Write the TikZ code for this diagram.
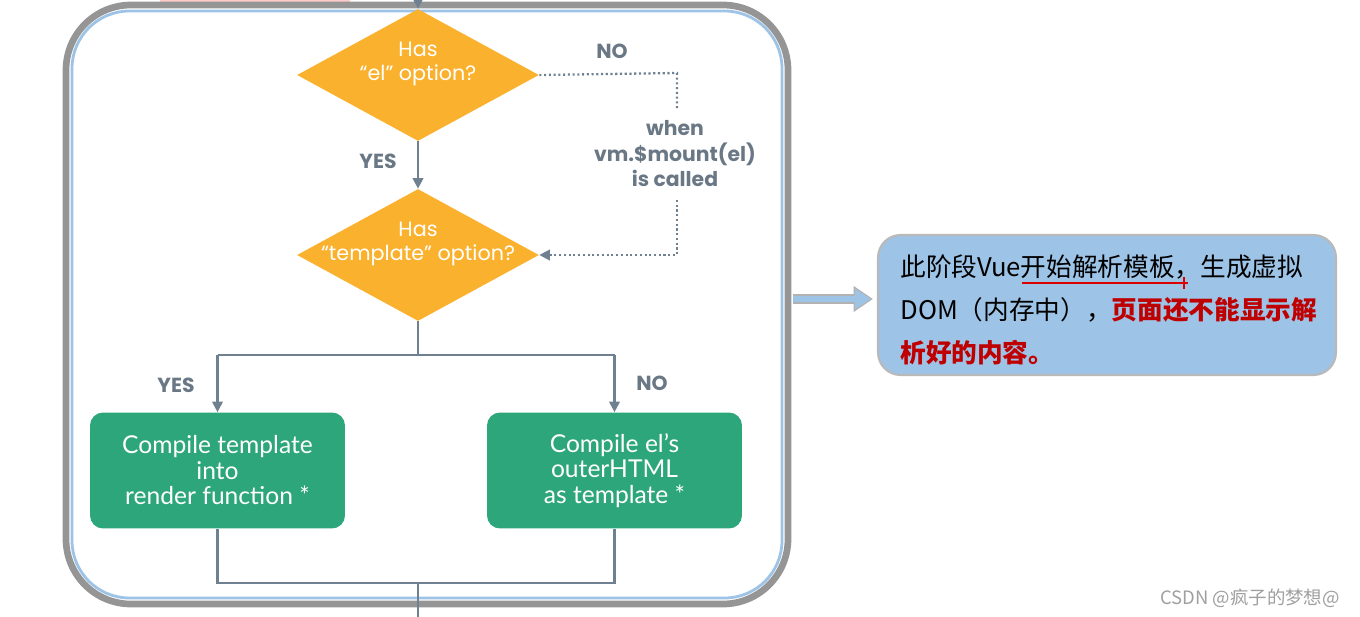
\documentclass[tikz,border=0pt]{standalone}
\usepackage{fontspec}
\setmainfont{Lato}
\newfontfamily\labfont{Poppins}
\newfontfamily\cjk{Noto Sans CJK SC}
\usetikzlibrary{shapes.geometric,arrows.meta}
\definecolor{dorange}{HTML}{FAB12E}
\definecolor{dgreen}{HTML}{2EA67B}
\definecolor{lgray}{HTML}{6F8191}
\definecolor{cblue}{HTML}{9DC3E6}
\definecolor{lbl}{HTML}{6A7886}
\definecolor{framegray}{HTML}{7A7A7A}
\tikzset{
  dec/.style={diamond, fill=dorange, draw=none, minimum width=4.84cm, minimum height=2.64cm, inner sep=0pt},
  dtext/.style={text=white, font=\labfont\fontsize{11.8}{14}\selectfont, align=center},
  action/.style={rectangle, rounded corners=0.26cm, fill=dgreen, minimum width=5.1cm, minimum height=2.32cm, text=white, font=\fontsize{14}{14.5}\selectfont, align=center, inner sep=0pt},
  lab/.style={text=lbl, font=\labfont\bfseries\fontsize{11.6}{14.5}\selectfont, align=center},
  conn/.style={draw=lgray, line width=1.2pt},
  arr/.style={conn, -{Triangle[length=6pt,width=6pt]}},
  dots/.style={draw=lgray, line width=1.3pt, dash pattern=on 1.2pt off 1.5pt},
  callout/.style={rectangle, rounded corners=0.45cm, fill=cblue, draw=gray!55, line width=1.2pt, minimum width=9.16cm, minimum height=2.8cm},
  ctext/.style={font=\cjk\fontsize{14.6}{16}\selectfont, anchor=west, inner sep=0pt},
}
\begin{document}
\begin{tikzpicture}[x=0.02cm, y=-0.02cm]
\useasboundingbox (0,0) rectangle (1360,616);
% faint pink band at top-left
\fill[red!35, opacity=0.6] (160,0) rectangle (350,2.5);
% outer frame
\draw[framegray!80, line width=3.8pt, rounded corners=1.3cm] (66,5) rectangle (788,604);
\draw[cblue, line width=1.6pt, rounded corners=1.15cm] (72,11) rectangle (782,598);

% decisions
\node[dec] (d1) at (418,75) {};
\node[dtext] (d1t) at (418,64) {Has\\“el” option?};
\node[dec] (d2) at (418,255) {};
\node[dtext] (d2t) at (418,244) {Has\\“template” option?};

% actions
\node[action] (b1) at (217.5,470.5) {Compile template\\into\\render function *};
\node[action] (b2) at (614.5,470.5) {Compile el’s\\outerHTML\\as template *};

% callout
\node[callout] (co) at (1107,305) {};
\node[ctext] (l1) at (900,267) {此阶段Vue开始解析模板，生成虚拟};
\node[ctext] (l2) at (900,310) {DOM（内存中），\textcolor{red!75!black}{\bfseries 页面还不能显示解}};
\node[ctext, text=red!75!black] (l3) at (900,353) {\bfseries 析好的内容。};
\coordinate (u1) at (1022,283);
\coordinate (u2) at (1188,283);
\draw[red!85!black, line width=1.4pt] (u1) -- (u2);
\draw[red!85!black, line width=0.9pt] (1184,277) -- (1184,289);

% coordinates
\coordinate (topin) at (418,-2);
\coordinate (n1) at (677,73);
\coordinate (n2) at (677,108);
\coordinate (n3) at (677,200);
\coordinate (s) at (418,355);
\coordinate (sl) at (217.5,355);
\coordinate (sr) at (614.5,355);
\coordinate (ml) at (217.5,583);
\coordinate (mr) at (614.5,583);
\coordinate (m) at (418,583);
\coordinate (botout) at (418,620);
\coordinate (fr) at (793,299);
\coordinate (ar) at (873,299);

% connectors
\draw[arr] (topin) -- (d1.north);
\draw[arr] (d1.south) -- (d2.north);
\draw[dots] (d1.east) -- (n1) -- (n2);
\draw[dots, -{Triangle[length=6pt,width=6pt]}] (n3) |- (d2.east);
\draw[conn] (d2.south) -- (s);
\draw[conn] (sl) -- (sr);
\draw[arr] (sl) -- (b1.north);
\draw[arr] (sr) -- (b2.north);
\draw[conn] (b1.south) -- (ml) -- (mr) -- (b2.south);
\draw[conn] (m) -- (botout);

% labels
\node[lab] (yes1) at (378,161) {YES};
\node[lab] (no1) at (612,51) {NO};
\node[lab] (when) at (675,154) {when\\vm.\$mount(el)\\is called};
\node[lab] (yes2) at (176,385) {YES};
\node[lab] (no2) at (652,383) {NO};

% blue arrow to callout
\draw[gray!60, line width=5.2pt, -{Triangle[length=11pt,width=14pt]}] (fr) -- (ar);
\draw[cblue, line width=3.4pt, -{Triangle[length=9pt,width=11pt]}] (fr) -- ([xshift=-1.2pt]ar);

% watermark
\node[text=gray!75, font=\cjk\fontsize{10.5}{12}\selectfont, anchor=east] (wm) at (1346,598) {CSDN @疯子的梦想@};
\end{tikzpicture}
\end{document}
